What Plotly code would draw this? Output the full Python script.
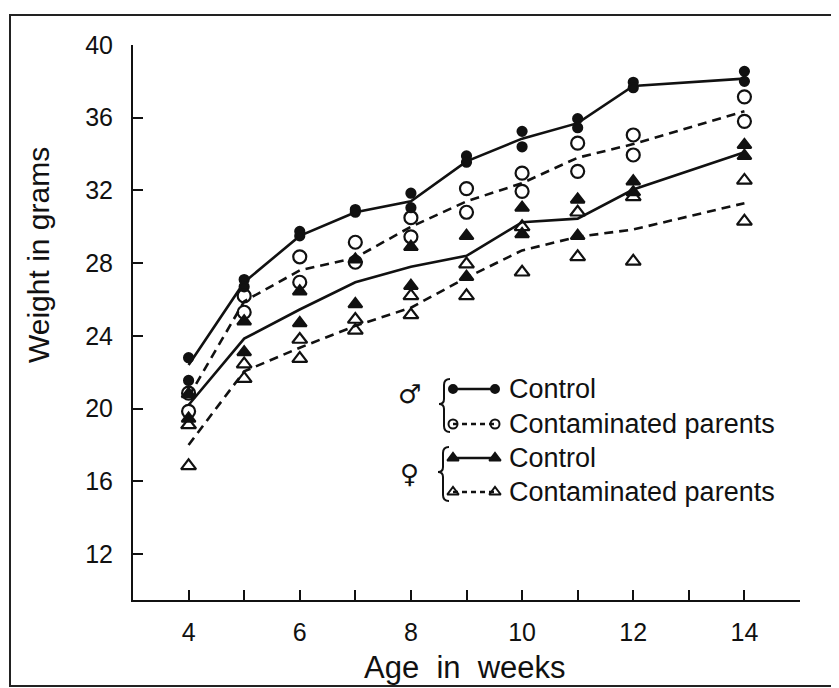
import plotly.graph_objects as go

# ---------------- data ----------------
weeks = [4, 5, 6, 7, 8, 9, 10, 11, 12, 14]

male_control_a = [22.8, 27.1, 29.75, 30.95, 31.85, 33.9, 35.25, 35.95, 37.95, 38.55]
male_control_b = [21.55, 26.7, 29.5, 30.8, 31.05, 33.55, 34.4, 35.45, 37.65, 38.0]
male_control_line = [22.4, 26.95, 29.5, 30.8, 31.4, 33.6, 34.85, 35.7, 37.75, 38.15]

male_contam_a = [20.85, 26.2, 28.35, 29.15, 30.5, 32.1, 32.95, 34.6, 35.05, 37.15]
male_contam_b = [19.85, 25.3, 26.95, 28.05, 29.45, 30.8, 31.95, 33.05, 33.95, 35.8]
male_contam_line = [20.65, 25.9, 27.6, 28.3, 30.0, 31.4, 32.4, 33.8, 34.55, 36.35]

female_control_a = [20.8, 24.8, 26.45, 28.2, 28.9, 29.5, 31.05, 31.5, 32.5, 34.5]
female_control_b = [19.45, 23.1, 24.7, 25.75, 26.75, 27.25, 29.6, 29.5, 31.9, 33.9]
female_control_line = [20.2, 23.85, 25.45, 26.95, 27.8, 28.4, 30.25, 30.45, 32.05, 34.1]

female_contam_a = [19.1, 22.45, 23.8, 24.9, 26.2, 27.95, 30.0, 30.8, 31.65, 32.55]
female_contam_b = [16.85, 21.65, 22.75, 24.3, 25.15, 26.2, 27.5, 28.35, 28.1, 30.3]
female_contam_line = [18.0, 22.05, 23.35, 24.55, 25.55, 27.2, 28.7, 29.45, 29.85, 31.3]

x_tick_vals = [4, 5, 6, 7, 8, 9, 10, 11, 12, 13, 14, 15]
x_tick_text = ["4", "", "6", "", "8", "", "10", "", "12", "", "14", ""]
y_tick_vals = [12, 16, 20, 24, 28, 32, 36, 40]

legend_labels = ["Control", "Contaminated parents", "Control", "Contaminated parents"]
sex_symbols = ["\u2642", "\u2640"]
x_title = "Age\u00a0 in\u00a0 weeks"
y_title = "Weight in grams"

# ---------------- layout geometry (screen pixels) ----------------
W, H = 839, 688
OFF = 8                      # page body margin of the html page
L, R, T, B = 133, 800, 45, 600
FONT = "Liberation Sans"
INK = "#111111"


def px(x):
    return (x - L) / (R - L)


def py(y):
    return (B - y) / (B - T)


fig = go.Figure()

line_w = 2.6
dash = "9px,6px"

groups = [
    (male_control_a, male_control_b, male_control_line, "circle", 9, "solid"),
    (male_contam_a, male_contam_b, male_contam_line, "circle-open", 13, dash),
    (female_control_a, female_control_b, female_control_line, "triangle-up", 12, "solid"),
    (female_contam_a, female_contam_b, female_contam_line, "triangle-up-open", 13, dash),
]

for a, b, ln, sym, size, dsh in groups:
    fig.add_trace(go.Scatter(
        x=weeks, y=ln, mode="lines",
        line=dict(color=INK, width=line_w, dash=dsh),
        hoverinfo="skip", showlegend=False))
    for obs in (a, b):
        fig.add_trace(go.Scatter(
            x=weeks, y=obs, mode="markers",
            marker=dict(symbol=sym, size=size, color=INK,
                        line=dict(color=INK, width=2.2)),
            showlegend=False))

# ---------------- custom key (overlay axes in 0..1 units) ----------------
row_y = [389, 424, 458, 492]
key_syms = [("circle", 8, "solid"), ("circle-open", 9, "dash"),
            ("triangle-up", 10, "solid"), ("triangle-up-open", 10, "dash")]
x0, x1 = px(453), px(495)
for (sym, size, dsh), yy in zip(key_syms, row_y):
    fig.add_trace(go.Scatter(
        x=[x0, x1], y=[py(yy), py(yy)], mode="lines+markers",
        xaxis="x2", yaxis="y2",
        line=dict(color=INK, width=2.4, dash=("5px,4px" if dsh == "dash" else "solid")),
        marker=dict(symbol=sym, size=size, color=INK, line=dict(color=INK, width=2)),
        hoverinfo="skip", showlegend=False))

annotations = []
for lab, yy in zip(legend_labels, row_y):
    annotations.append(dict(
        x=px(507), y=py(yy), xref="paper", yref="paper", text=lab,
        showarrow=False, xanchor="left", yanchor="middle",
        font=dict(family=FONT, size=27, color=INK)))
for s, yy in zip(sex_symbols, [394, 474]):
    annotations.append(dict(
        x=px(409), y=py(yy), xref="paper", yref="paper", text=s,
        showarrow=False, xanchor="center", yanchor="middle",
        font=dict(family="DejaVu Sans", size=26, color=INK)))

annotations.append(dict(
    x=px(465), y=py(667), xref="paper", yref="paper", text=x_title,
    showarrow=False, xanchor="center", yanchor="middle",
    font=dict(family=FONT, size=31, color=INK)))
annotations.append(dict(
    x=px(38), y=py(255), xref="paper", yref="paper", text=y_title,
    showarrow=False, xanchor="center", yanchor="middle", textangle=-90,
    font=dict(family=FONT, size=30, color=INK)))


def brace(xv, ytop, ybot, ytip):
    xr = xv + 6
    xt = xv - 5
    pts = (f"M {px(xr)} {py(ytop)} "
           f"Q {px(xv)} {py(ytop)} {px(xv)} {py(ytop + 6)} "
           f"L {px(xv)} {py(ytip - 5)} "
           f"Q {px(xv)} {py(ytip)} {px(xt)} {py(ytip)} "
           f"Q {px(xv)} {py(ytip)} {px(xv)} {py(ytip + 5)} "
           f"L {px(xv)} {py(ybot - 6)} "
           f"Q {px(xv)} {py(ybot)} {px(xr)} {py(ybot)}")
    return dict(type="path", path=pts, xref="paper", yref="paper",
                line=dict(color=INK, width=2))


shapes = [
    brace(444, 379, 432, 404),
    brace(443, 447, 501, 472),
    dict(type="rect", xref="paper", yref="paper",
         x0=px(10), x1=px(836), y0=py(686), y1=py(15),
         line=dict(color="#222222", width=2), fillcolor="rgba(0,0,0,0)"),
]

fig.update_layout(
    width=W, height=H,
    margin=dict(l=L - OFF, r=W - R + OFF, t=T - OFF, b=H - B + OFF, pad=0),
    paper_bgcolor="white", plot_bgcolor="white",
    font=dict(family=FONT, color=INK),
    showlegend=False,
    xaxis=dict(range=[3, 15], tickvals=x_tick_vals, ticktext=x_tick_text,
               ticks="inside", ticklen=10, tickwidth=2, tickcolor=INK,
               showline=True, linecolor=INK, linewidth=2,
               showgrid=False, zeroline=False, ticklabelstandoff=9,
               tickfont=dict(family=FONT, size=25, color=INK)),
    yaxis=dict(range=[40 - (B - T) / 18.18, 40], tickvals=y_tick_vals,
               ticks="inside", ticklen=10, tickwidth=2, tickcolor=INK,
               showline=True, linecolor=INK, linewidth=2,
               showgrid=False, zeroline=False, ticklabelstandoff=13,
               tickfont=dict(family=FONT, size=25, color=INK)),
    xaxis2=dict(range=[0, 1], overlaying="x", visible=False, fixedrange=True),
    yaxis2=dict(range=[0, 1], overlaying="y", visible=False, fixedrange=True),
    annotations=annotations,
    shapes=shapes,
)

fig.write_html("out.html")
